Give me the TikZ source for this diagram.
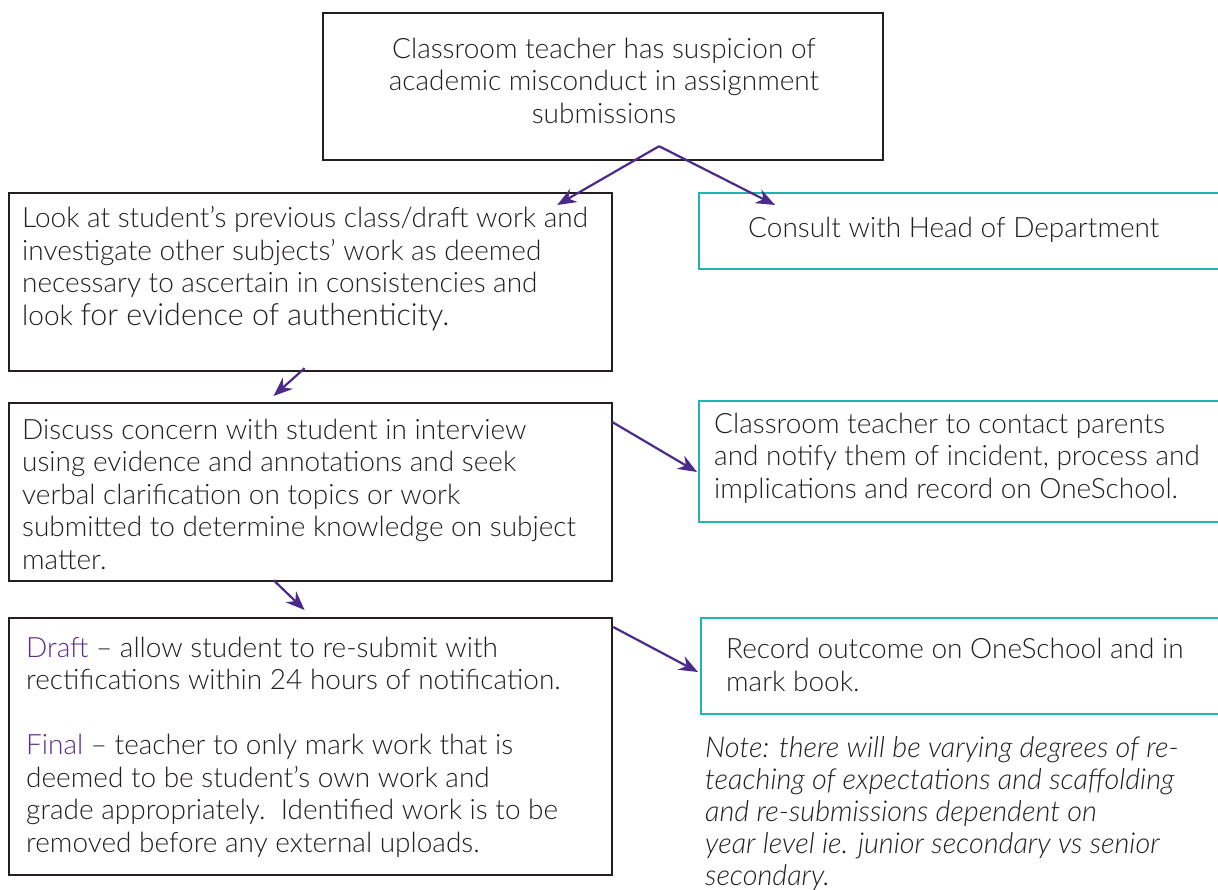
\documentclass[tikz,border=0pt]{standalone}
\usepackage{fontspec}
\setmainfont{Lato Light}
\usetikzlibrary{arrows.meta,calc}
\definecolor{tealbox}{HTML}{1DB5AD}
\definecolor{purp}{HTML}{4B2A8C}
\definecolor{purptxt}{HTML}{5B2D8E}
\definecolor{ink}{HTML}{231F20}
\begin{document}
\begin{tikzpicture}[x=1pt,y=-1pt,
  bbox/.style={draw=ink, line width=2.2pt, inner sep=0pt, anchor=north west},
  tbox/.style={draw=tealbox, line width=2.2pt, inner sep=0pt, anchor=north west},
  txt/.style={text=ink, inner sep=0pt, anchor=base west, align=left, font=\fontsize{28}{32.5}\selectfont},
  ctxt/.style={text=ink, inner sep=0pt, anchor=base, align=center, font=\fontsize{28}{32.5}\selectfont},
  arr/.style={draw=purp, line width=2.2pt, -{Stealth[length=19pt,width=15pt]}}]
\useasboundingbox[fill=white] (0,0) rectangle (1218,889);

% boxes
\node[bbox, minimum width=560pt, minimum height=147pt] (top) at (322,12) {};
\node[bbox, minimum width=603pt, minimum height=178pt] (A) at (8,192) {};
\node[tbox, minimum width=540pt, minimum height=76pt] (cons) at (698,192) {};
\node[bbox, minimum width=603pt, minimum height=178pt] (B) at (8,402) {};
\node[tbox, minimum width=540pt, minimum height=121pt] (par) at (698,400) {};
\node[bbox, minimum width=603pt, minimum height=257pt] (C) at (8,617) {};
\node[tbox, minimum width=540pt, minimum height=96pt] (rec) at (700,617) {};

% texts (base anchor = baseline of the last line)
\node[ctxt] (toptxt) at (604,123) {Classroom teacher has suspicion of\\academic misconduct in assignment\\submissions};
\node[txt] (Atxt) at (22,325) {Look at student’s previous class/draft work and\\investigate other subjects’ work as deemed\\necessary to ascertain in consistencies and\\look {\fontsize{30.5}{32.5}\selectfont for evidence of authenticity.}};
\node[txt] (constxt) at (748,237) {Consult with Head of Department};
\node[txt] (Btxt) at (22,569) {Discuss concern with student in interview\\using evidence and annotations and seek\\verbal clarification on topics or work\\submitted to determine knowledge on subject\\matter.};
\node[txt] (partxt) at (714,498) {Classroom teacher to contact parents\\and notify them of incident, process and\\implications and record on OneSchool.};
\node[txt] (Ctxt) at (26,852) {{\color{purptxt}Draft} – allow student to re-submit with\\rectifications within 24 hours of notification.\\[32.5pt]{\color{purptxt}Final} – teacher to only mark work that is\\deemed to be student’s own work and\\grade appropriately.\ \ Identified work is to be\\removed before any external uploads.};
\node[txt] (rectxt) at (726,691) {Record outcome on OneSchool and in\\mark book.};
\node[txt, font=\fontsize{28.8}{32}\selectfont\itshape] (note) at (705,885) {Note: there will be varying degrees of re-\\teaching of expectations and scaffolding\\and re-submissions dependent on\\year level ie. junior secondary vs senior\\secondary.};

% arrows
\coordinate (split) at ($(top.south)+(56,-15)$);
\draw[arr] (split) -- ($(A.north east)+(-56,13)$);
\draw[arr] (split) -- ($(cons.north west)+(77,13)$);
\draw[arr] ($(A.south)+(-6,-4)$) -- ($(B.north)+(-37,-6)$);
\draw[arr] ($(B.south)+(-37,-2)$) -- ($(C.north)+(-6,-7)$);
\draw[arr] ($(B.north east)+(-1,20)$) -- ($(par.north west)+(-1,72)$);
\draw[arr] ($(C.north east)+(0,10)$) -- ($(rec.north west)+(-2,55)$);
\end{tikzpicture}
\end{document}
